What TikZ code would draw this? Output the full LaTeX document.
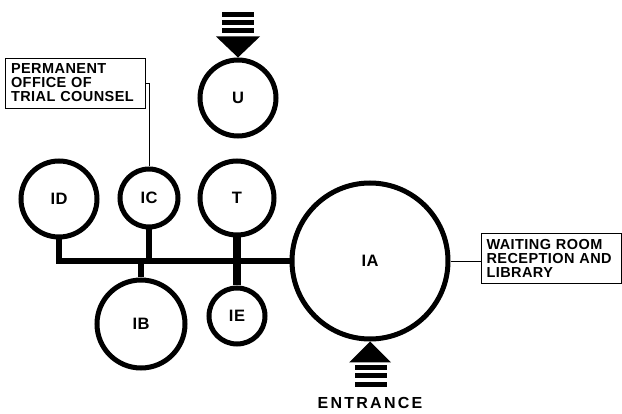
\documentclass[tikz,border=0pt]{standalone}
\usepackage{fontspec}
\usepackage{tikz}
\usetikzlibrary{calc}
\newfontfamily\roomfont[LetterSpace=3]{Liberation Sans Bold}
\newfontfamily\notefont[LetterSpace=3, WordSpace=1.5]{Liberation Sans Bold}
\newfontfamily\doorfont[LetterSpace=14]{Liberation Sans Bold}

\begin{document}
\begin{tikzpicture}[x=1pt, y=-1pt,
    room/.style={circle, draw, line width=5pt, inner sep=0pt, font=\roomfont\fontsize{16.5}{16.5}\selectfont},
    note/.style={draw, line width=0.8pt, align=left, inner xsep=5pt, inner ysep=2pt, font=\notefont\fontsize{14.5}{14}\selectfont},
    hall/.style={line width=6.5pt},
    bar/.style={fill=black}]
                \useasboundingbox (0,0) rectangle (622,414);
                \node[room, minimum size=156pt] (IA) at (370,261) {IA};
                \node[room, minimum size=76pt] (ID) at (59,199) {ID};
                \node[room, minimum size=58pt] (IC) at (149,198) {IC};
                \node[room, minimum size=74pt] (T) at (237,198) {T};
                \node[room, minimum size=88pt] (IB) at (141,324) {IB};
                \node[room, minimum size=56pt] (IE) at (237,316) {IE};
                \node[room, minimum size=76pt] (U) at (238,98) {U};
                \draw[hall] (ID.south) |- (IA.west);
                \draw[hall] (IC.south) -- (IC.south |- IA.west);
                \draw[hall] (IB.north) -- (IB.north |- IA.west);
                \draw[hall, line width=7.5pt] (T.south) -- (IE.north);
                \node[note, text width=128pt, minimum height=50pt, inner xsep=6pt] (office) at (75,83) {PERMANENT\\OFFICE OF\\TRIAL COUNSEL};
                \node[note, text width=130pt, minimum height=50pt] (waiting) at (551.5,258) {WAITING ROOM\\RECEPTION AND\\LIBRARY};
                \draw[line width=0.8pt] (office.east) -| (IC.north);
                \draw[line width=0.8pt] (IA.east) -- (waiting.west |- IA.east);
                \fill (U.north) -- ++(-22,-21) -- ++(44,0) -- cycle;
                \foreach \y in {12,20,28}
                    \fill[bar] (222,\y) rectangle (254,\y+5);
                \fill (IA.south) -- ++(-21,21) -- ++(42,0) -- cycle;
                \foreach \y in {365,373,382}
                    \fill[bar] (355,\y) rectangle (387,\y+5);
                \node[font=\doorfont\fontsize{16}{16}\selectfont, inner sep=0pt] (entrance) at (370,403) {ENTRANCE};
            \end{tikzpicture}
\end{document}
